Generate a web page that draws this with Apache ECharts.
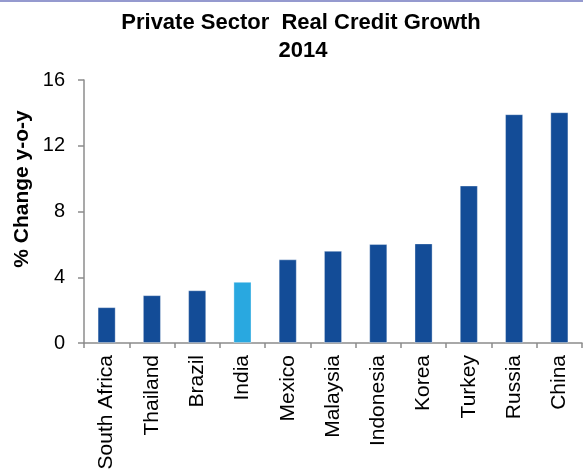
<!DOCTYPE html>
<html>
<head>
<meta charset="utf-8">
<script src="https://cdn.jsdelivr.net/npm/echarts@6/dist/echarts.min.js"></script>
<style>
html,body{margin:0;padding:0;background:#fff;}
#chart{width:583px;height:475px;}
</style>
</head>
<body>
<div id="chart"></div>
<script>
var categories = ['South Africa','Thailand','Brazil','India','Mexico','Malaysia','Indonesia','Korea','Turkey','Russia','China'];
var values = [2.18, 2.91, 3.21, 3.72, 5.09, 5.61, 6.02, 6.06, 9.58, 13.92, 14.04];
var highlight = 'India';
var titleLine1 = 'Private Sector  Real Credit Growth';
var titleLine2 = '2014';
var yAxisTitle = '% Change y-o-y';
var yMin = 0, yMax = 16, yInterval = 4;

var darkBlue = '#134C97';
var lightBlue = '#29A8E0';
var font = 'Liberation Sans, Arial, Helvetica, sans-serif';

var chart = echarts.init(document.getElementById('chart'));
chart.setOption({
  animation: false,
  grid: {left: 84, right: 1, top: 80, bottom: 132, containLabel: false},
  graphic: [
    {type: 'rect', left: 0, top: 0, shape: {width: 583, height: 2}, style: {fill: '#959ACF'}},
    {type: 'text', x: 301, y: 22.5, style: {text: titleLine1, font: 'bold 22px ' + font, fill: '#000', textAlign: 'center', textVerticalAlign: 'middle'}},
    {type: 'text', x: 303, y: 50.5, style: {text: titleLine2, font: 'bold 22px ' + font, fill: '#000', textAlign: 'center', textVerticalAlign: 'middle'}},
    {type: 'text', x: 22, y: 189, rotation: Math.PI / 2, style: {text: yAxisTitle, font: 'bold 21px ' + font, fill: '#000', textAlign: 'center', textVerticalAlign: 'middle'}}
  ],
  xAxis: {
    type: 'category',
    data: categories,
    axisLine: {lineStyle: {color: '#8c8c8c', width: 1.5}},
    axisTick: {show: true, length: 5, lineStyle: {color: '#8c8c8c', width: 1.5}},
    axisLabel: {rotate: 90, margin: 12, fontSize: 21, color: '#000', fontFamily: font, interval: 0}
  },
  yAxis: {
    type: 'value',
    min: yMin, max: yMax, interval: yInterval,
    splitLine: {show: false},
    axisLine: {show: true, lineStyle: {color: '#8c8c8c', width: 1.5}},
    axisTick: {show: true, length: 6, lineStyle: {color: '#8c8c8c', width: 1.5}},
    axisLabel: {margin: 19, fontSize: 20, color: '#000', fontFamily: font}
  },
  series: [{
    type: 'bar',
    barWidth: '40%',
    data: values.map(function (v, i) {
      return {value: v, itemStyle: {color: categories[i] === highlight ? lightBlue : darkBlue}};
    }),
    itemStyle: {borderColor: 'rgba(255,255,255,0.35)', borderWidth: 1}
  }]
});
</script>
</body>
</html>
